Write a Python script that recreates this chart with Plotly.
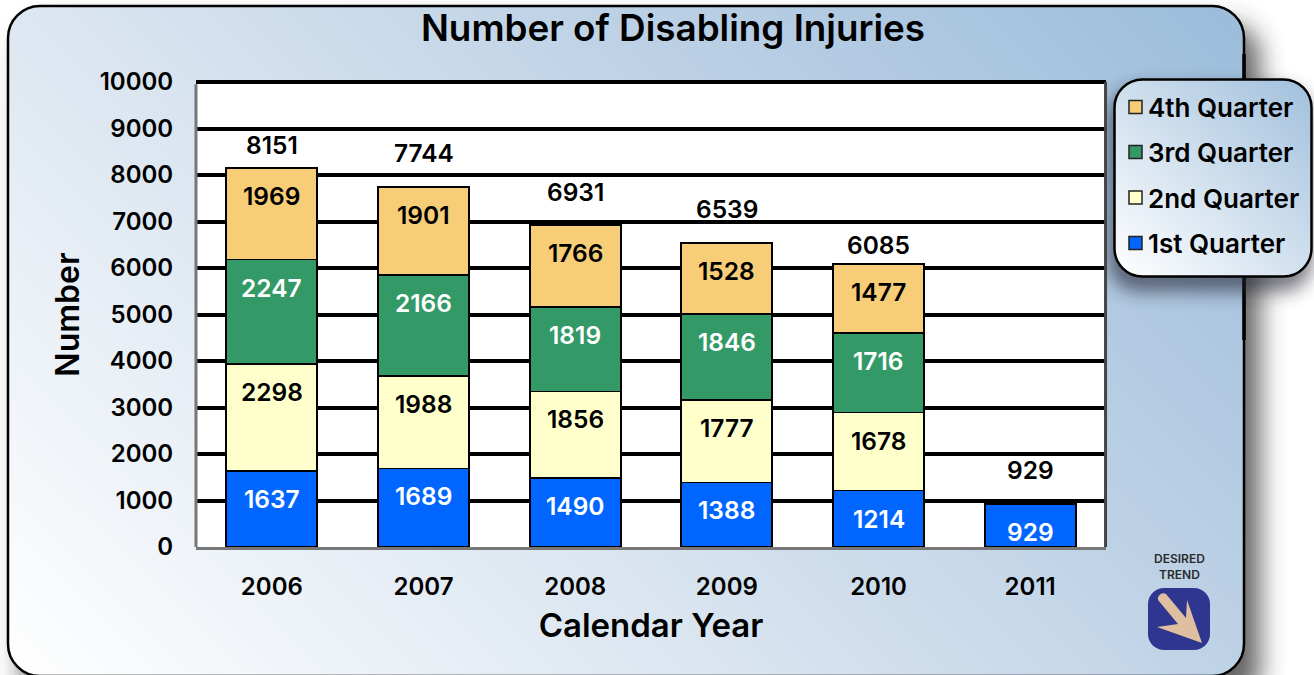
import base64
import plotly.graph_objects as go

years = ["2006", "2007", "2008", "2009", "2010", "2011"]
q1 = [1637, 1689, 1490, 1388, 1214, 929]
q2 = [2298, 1988, 1856, 1777, 1678, None]
q3 = [2247, 2166, 1819, 1846, 1716, None]
q4 = [1969, 1901, 1766, 1528, 1477, None]
totals = [8151, 7744, 6931, 6539, 6085, 929]
y_ticks = list(range(0, 10001, 1000))

total_label_gap = [23, 34, 33, 34, 19, 34]
W, H = 1314, 675
L, R, T, B = 196, 1106, 82, 547
FONT = "Inter"

series = [
    ("1st Quarter", q1, "#0066FF", "white"),
    ("2nd Quarter", q2, "#FFFFCC", "black"),
    ("3rd Quarter", q3, "#339966", "white"),
    ("4th Quarter", q4, "#F7CD78", "black"),
]
legend_rows = {"4th Quarter": 107.5, "3rd Quarter": 152.5, "2nd Quarter": 198, "1st Quarter": 243.5}


def px(x):
    return (x - L) / (R - L)


def py(y):
    return (B - y) / (B - T)


svg = f'''<svg xmlns="http://www.w3.org/2000/svg" width="{W}" height="{H}" viewBox="0 0 {W} {H}">
<defs>
<linearGradient id="g" gradientUnits="userSpaceOnUse" x1="8" y1="676" x2="961" y2="-277">
<stop offset="0" stop-color="#FFFFFF"/><stop offset="0.35" stop-color="#DDE7F1"/><stop offset="0.68" stop-color="#BBD0E5"/><stop offset="1" stop-color="#9BBCDA"/></linearGradient>
<linearGradient id="l" gradientUnits="userSpaceOnUse" x1="1120" y1="280" x2="1310" y2="75">
<stop offset="0" stop-color="#FFFFFF"/><stop offset="1" stop-color="#A0BFDC"/></linearGradient>
<filter id="s" x="-10%" y="-10%" width="125%" height="125%"><feGaussianBlur stdDeviation="13"/></filter>
<filter id="s2" x="-30%" y="-30%" width="160%" height="160%"><feGaussianBlur stdDeviation="9"/></filter>
</defs>
<rect width="{W}" height="{H}" fill="white"/>
<rect x="22" y="24" width="1238" height="680" rx="32" fill="#333" opacity="0.75" filter="url(#s)"/>
<rect x="8" y="6" width="1236" height="670" rx="32" fill="url(#g)" stroke="black" stroke-width="2.5"/>
<line x1="1244" y1="54" x2="1244" y2="340" stroke="black" stroke-width="3.5"/>
<rect x="1108" y="88" width="204" height="204" rx="30" fill="#223" opacity="0.6" filter="url(#s2)"/>
<rect x="1114.5" y="79.5" width="197" height="197" rx="28" fill="url(#l)" stroke="black" stroke-width="2.5"/>
<rect x="1148" y="588" width="62" height="62" rx="16" fill="#2E3690"/>
<path d="M1157 627 L1178 624 L1158 600 A5.5 5.5 0 0 1 1166 594 L1186 618 L1187 600 L1202 643 Z" fill="#E0BFA0"/>
</svg>'''
bg_src = "data:image/svg+xml;base64," + base64.b64encode(svg.encode()).decode()

fig = go.Figure()
for name, vals, color, _ in series:
    fig.add_bar(x=years, y=vals, name=name, width=0.6, showlegend=False,
                marker=dict(color=color, line=dict(color="black", width=1.8)))

for idx, (name, vals, color, txt) in enumerate(series):
    for i in range(len(years)):
        if vals[i] is None:
            continue
        top = sum(s[1][i] for s in series[:idx + 1])
        fig.add_annotation(x=i, y=top, text=str(vals[i]), showarrow=False, yshift=-28,
                           font=dict(color=txt, size=24.5, family=FONT, weight=600))
for i in range(len(years)):
    fig.add_annotation(x=i, y=totals[i], text=str(totals[i]), showarrow=False,
                       yshift=total_label_gap[i], font=dict(color="black", size=24.5, family=FONT, weight=600))

fig.add_annotation(xref="paper", yref="paper", x=px(1179), y=py(566), xanchor="center", yanchor="middle",
                   text="DESIRED<br>TREND", showarrow=False,
                   font=dict(color="#2A2A2A", size=12, family=FONT, weight=600))

legend_shapes = []
for name, _, color, _ in series:
    row = legend_rows[name]
    fig.add_annotation(xref="paper", yref="paper", x=px(1148), y=py(row), xanchor="left", yanchor="middle",
                       xshift=-2, text=name, showarrow=False,
                       font=dict(color="black", size=26, family=FONT, weight=600))
    legend_shapes.append(dict(type="rect", xref="paper", yref="paper",
                              x0=px(1129), x1=px(1142), y0=py(row - 0.5 + 6.5), y1=py(row - 0.5 - 6.5),
                              fillcolor=color, line=dict(color="#222", width=1.5), layer="above"))

frame_lines = [
    dict(type="rect", xref="paper", yref="paper", x0=0, x1=1, y0=0, y1=1,
         fillcolor="white", line=dict(width=0), layer="below"),
    dict(type="line", xref="paper", yref="paper", x0=0, x1=1, y0=1, y1=1,
         line=dict(color="black", width=4), layer="below"),
    dict(type="line", xref="paper", yref="paper", x0=0, x1=0, y0=0, y1=0.995,
         line=dict(color="#777", width=3), layer="above"),
    dict(type="line", xref="paper", yref="paper", x0=0.9995, x1=0.9995, y0=0, y1=1,
         line=dict(color="#444", width=3), layer="above"),
]

fig.update_layout(
    width=W, height=H, autosize=False,
    margin=dict(l=L, r=W - R, t=T, b=H - B, autoexpand=False),
    paper_bgcolor="white", plot_bgcolor="white",
    barmode="stack", bargap=0.4,
    showlegend=False,
    title=dict(text="Number of Disabling Injuries", x=673 / W, xanchor="center", y=1 - 28 / H, yanchor="middle",
               font=dict(size=36.8, color="black", family=FONT, weight=600)),
    font=dict(family=FONT, color="black"),
    xaxis=dict(type="category", categoryorder="array", categoryarray=years, showgrid=False,
               showline=True, linecolor="#777", linewidth=3,
               ticks="outside", ticklen=16, tickcolor="rgba(0,0,0,0)",
               tickfont=dict(size=24, family=FONT, weight=600),
               title=dict(text="Calendar Year", standoff=15, font=dict(size=33, family=FONT, weight=600))),
    yaxis=dict(range=[0, 10000], tickvals=y_ticks, tickformat="d", showgrid=True, gridcolor="black", gridwidth=4,
               zeroline=False, showline=False,
               ticks="outside", ticklen=17, tickcolor="rgba(0,0,0,0)",
               tickfont=dict(size=24, family=FONT, weight=600),
               title=dict(text="Number", standoff=10, font=dict(size=32, family=FONT, weight=600))),
    images=[dict(source=bg_src, xref="paper", yref="paper", x=-L / (R - L), y=B / (B - T),
                 sizex=W / (R - L), sizey=H / (B - T), xanchor="left", yanchor="top",
                 sizing="stretch", layer="below")],
    shapes=frame_lines + legend_shapes,
)

fig.write_html("out.html", config=dict(displayModeBar=False),
               post_script="document.body.style.margin='0';document.body.style.overflow='hidden';")
